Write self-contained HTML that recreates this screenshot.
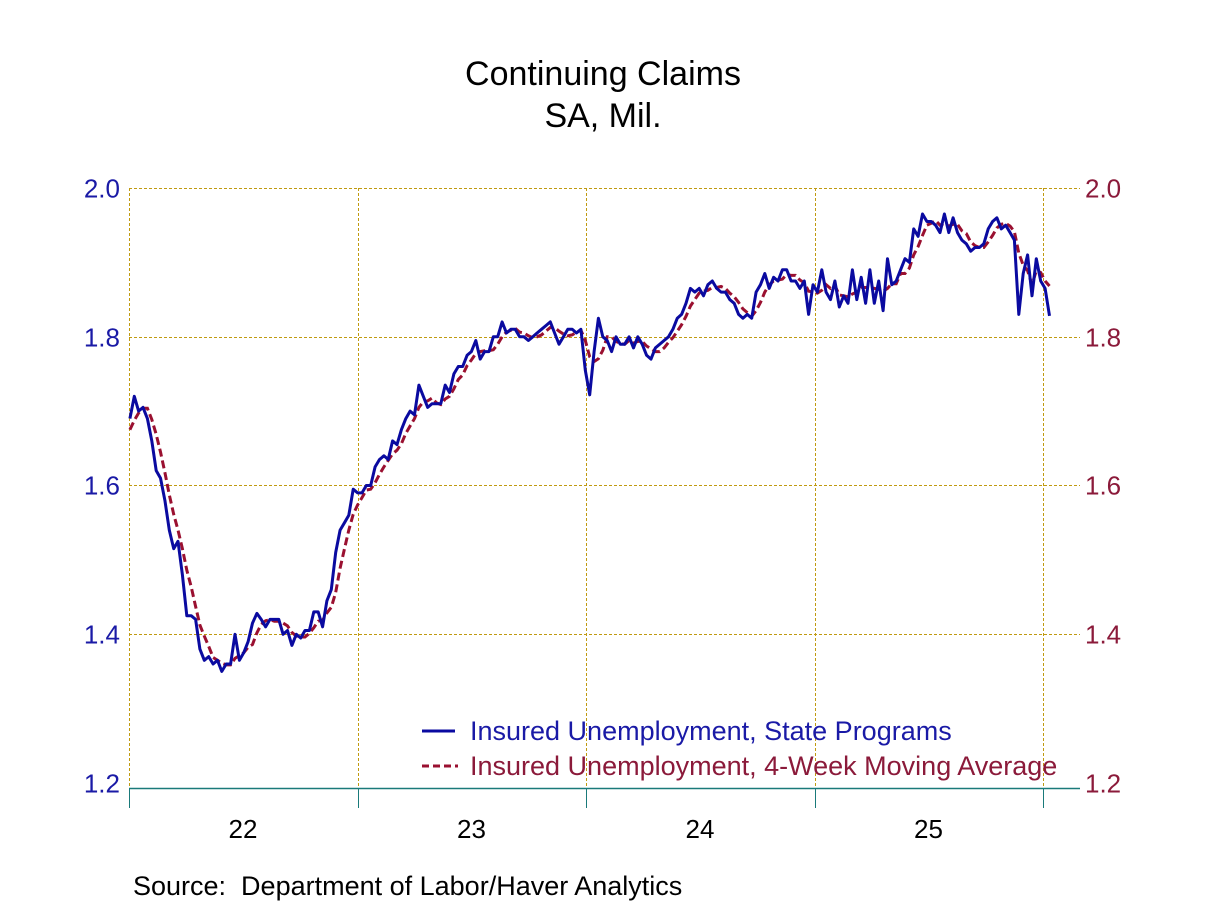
<!DOCTYPE html>
<html><head><meta charset="utf-8"><style>
body{margin:0;background:#fff;}
svg{display:block;font-family:"Liberation Sans",Arial,sans-serif;}
</style></head><body>
<svg width="1208" height="906" viewBox="0 0 1208 906">
<text x="603" y="85" font-size="34" text-anchor="middle">Continuing Claims</text>
<text x="603" y="127" font-size="34" text-anchor="middle">SA, Mil.</text>
<g id="grid"></g>
<g id="axes"></g>
<g id="series"></g>
<g>
<line x1="422" y1="731" x2="455" y2="731" stroke="#0a0aa0" stroke-width="3"/>
<text x="470" y="740" font-size="27" fill="#1a1aa6">Insured Unemployment, State Programs</text>
<line x1="422" y1="766" x2="458" y2="766" stroke="#9a1030" stroke-width="3" stroke-dasharray="7,4"/>
<text x="470" y="775" font-size="27" fill="#8b1a3a">Insured Unemployment, 4-Week Moving Average</text>
</g>
<text x="133" y="895" font-size="27" xml:space="preserve" style="white-space:pre">Source:  Department of Labor/Haver Analytics</text>
</svg>
<script>
const yTicks=[2.0,1.8,1.6,1.4,1.2];
const yTickLabels=["2.0","1.8","1.6","1.4","1.2"];
const yearLabels=["22","23","24","25"];
const claims=[
1.69,1.72,1.70,1.705,1.69,1.66,1.62,1.61,1.58,1.54,1.515,1.525,1.48,1.425,1.425,1.42,1.38,1.365,1.37,1.36,1.365,1.35,1.36,1.36,1.40,1.365,1.375,1.39,1.415,1.428,1.42,1.41,1.42,1.42,1.42,1.40,1.405,1.385,1.40,1.395,1.405,1.405,1.43,1.43,1.41,1.445,1.46,1.51,1.54,1.55,1.56,1.595,
1.59,1.59,1.60,1.60,1.625,1.635,1.64,1.635,1.66,1.655,1.675,1.69,1.70,1.695,1.735,1.72,1.705,1.71,1.71,1.71,1.735,1.725,1.75,1.76,1.76,1.775,1.78,1.795,1.77,1.78,1.78,1.80,1.80,1.82,1.805,1.81,1.81,1.80,1.80,1.795,1.80,1.805,1.81,1.815,1.82,1.805,1.79,1.80,1.81,1.81,1.805,1.81,
1.755,1.722,1.78,1.825,1.80,1.795,1.78,1.80,1.79,1.79,1.80,1.785,1.80,1.79,1.775,1.77,1.785,1.79,1.795,1.80,1.81,1.825,1.83,1.845,1.865,1.86,1.865,1.855,1.87,1.875,1.865,1.86,1.86,1.85,1.845,1.83,1.825,1.83,1.825,1.86,1.87,1.885,1.865,1.88,1.875,1.89,1.89,1.875,1.875,1.865,1.875,1.83,1.87,1.86,1.89,
1.86,1.85,1.875,1.84,1.855,1.845,1.89,1.85,1.88,1.845,1.89,1.845,1.875,1.835,1.905,1.87,1.875,1.89,1.905,1.90,1.945,1.935,1.965,1.955,1.955,1.95,1.94,1.965,1.94,1.96,1.94,1.93,1.925,1.915,1.92,1.92,1.925,1.945,1.955,1.96,1.945,1.95,1.94,1.93,
1.83,1.885,1.91,1.855,1.905,1.875,1.865,1.828];
const priorWeeks=[1.67,1.66,1.68];
const NS="http://www.w3.org/2000/svg";
const X0=129,WEEK=228.5/52.18,Y2=188,PX=743.75;
function xs(i){return X0+WEEK*(i+0.2);}
function ys(v){return Y2+(2.0-v)*PX;}
function mk(tag,attrs,parent){const e=document.createElementNS(NS,tag);for(const k in attrs)e.setAttribute(k,attrs[k]);parent.appendChild(e);return e;}
const grid=document.getElementById('grid'),axes=document.getElementById('axes'),ser=document.getElementById('series');
yTicks.forEach((t,i)=>{
  const y=Math.round(ys(t))+0.5;
  if(t>1.2){const l=mk('line',{x1:X0,y1:y,x2:1080,y2:y,stroke:'#c09a10','stroke-width':1,'stroke-dasharray':'3,2','shape-rendering':'crispEdges'},grid);
  
  }
  const a=mk('text',{x:120,y:y+9,'font-size':26,fill:'#1a1aa6','text-anchor':'end'},axes);a.textContent=yTickLabels[i];
  
  
  const b=mk('text',{x:1085,y:y+9,'font-size':26,fill:'#8b1a3a'},axes);b.textContent=yTickLabels[i];
  
  
});
for(let k=0;k<=4;k++){
  const x=Math.round(X0+k*228.5)+0.5;
  const g=mk('line',{x1:x,y1:188,x2:x,y2:788,stroke:'#c09a10','stroke-width':1,'stroke-dasharray':'3,2','shape-rendering':'crispEdges'},grid);
  
  
  const t=mk('line',{x1:x,y1:788,x2:x,y2:808,stroke:'#1a7a7a','stroke-width':1},axes);
  
  
}
const ax=mk('line',{x1:X0,y1:788.5,x2:1080,y2:788.5,stroke:'#1a7a7a','stroke-width':1.5},axes);


yearLabels.forEach((s,k)=>{const t=mk('text',{x:X0+k*228.5+114,y:838,'font-size':26,'text-anchor':'middle'},axes);t.textContent=s;
  
  });
const full=priorWeeks.concat(claims);
const ma=claims.map((v,i)=>{const j=i+3;return (full[j]+full[j-1]+full[j-2]+full[j-3])/4;});
const p2=mk('polyline',{points:ma.map((v,i)=>xs(i).toFixed(1)+','+ys(v).toFixed(1)).join(' '),fill:'none',stroke:'#9a1030','stroke-width':3,'stroke-dasharray':'8,4'},ser);


const p1=mk('polyline',{points:claims.map((v,i)=>xs(i).toFixed(1)+','+ys(v).toFixed(1)).join(' '),fill:'none',stroke:'#0a0aa0','stroke-width':3,'stroke-linejoin':'round'},ser);


</script>
</body></html>
